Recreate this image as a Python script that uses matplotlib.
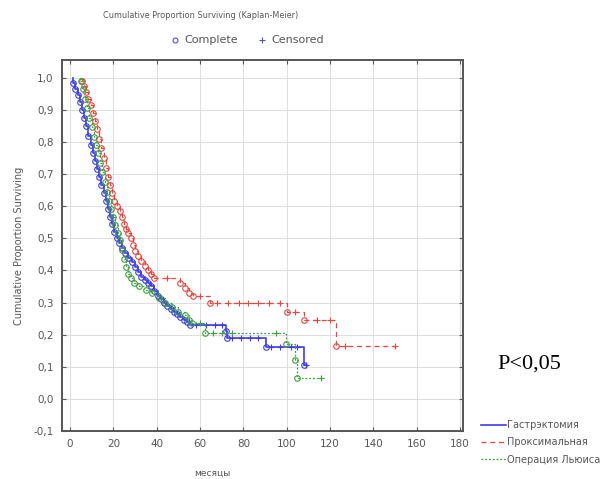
import matplotlib.pyplot as plt

# Gastrectomy (blue): event times and survival after each event
gast_t = [1.5, 2.5, 3.5, 4.5, 5.5, 6.5, 7.5, 8.5, 9.5, 10.5, 11.5, 12.5, 13.5, 14.5,
          15.5, 16.5, 17.5, 18.5, 19.5, 20.5, 21.5, 22.5, 24, 25.5, 27, 28.5, 30, 31.5,
          33, 34.5, 36, 37.5, 39, 40.5, 42, 43.5, 45, 46.5, 48, 49.5, 51, 52.5, 54, 55.5,
          72, 72.5, 90.5, 108]
gast_s = [0.985, 0.965, 0.945, 0.925, 0.90, 0.875, 0.85, 0.82, 0.79, 0.765, 0.74, 0.715,
          0.69, 0.665, 0.64, 0.615, 0.59, 0.565, 0.545, 0.52, 0.50, 0.485, 0.47, 0.455,
          0.44, 0.425, 0.41, 0.395, 0.38, 0.37, 0.36, 0.35, 0.335, 0.32, 0.31, 0.30, 0.29,
          0.28, 0.27, 0.265, 0.255, 0.245, 0.24, 0.23, 0.21, 0.19, 0.16, 0.105]
gast_cens_t = [58, 63, 67, 70, 75, 79, 83, 87, 93, 97, 102, 105, 109]
gast_cens_s = [0.23, 0.23, 0.23, 0.23, 0.19, 0.19, 0.19, 0.19, 0.16, 0.16, 0.16, 0.16, 0.105]

# Proximal resection (red)
prox_t = [5.5, 6.5, 7.5, 8.5, 9.5, 10.5, 11.5, 12.5, 13.5, 14.5, 15.5, 16.5, 17.5, 18.5,
          19.5, 20.5, 21.5, 23, 24, 25, 26, 27, 28, 29, 30, 31.5, 33, 34.5, 36, 37.5, 39,
          51, 53, 55, 57, 64.5, 100, 108, 123]
prox_s = [0.99, 0.975, 0.955, 0.935, 0.915, 0.89, 0.865, 0.84, 0.81, 0.78, 0.75, 0.72,
          0.69, 0.665, 0.64, 0.615, 0.60, 0.585, 0.565, 0.545, 0.53, 0.515, 0.50, 0.48,
          0.46, 0.445, 0.43, 0.415, 0.40, 0.39, 0.375, 0.36, 0.345, 0.33, 0.32, 0.30, 0.27,
          0.245, 0.165]
prox_cens_t = [45, 60, 68, 73, 78, 82, 87, 92, 97, 104, 114, 120, 127, 150]
prox_cens_s = [0.375, 0.32, 0.30, 0.30, 0.30, 0.30, 0.30, 0.30, 0.30, 0.27, 0.245, 0.245,
               0.165, 0.165]

# Lewis operation (green)
lewis_t = [5, 6, 7, 8, 9, 10, 11, 12, 13, 14, 15, 16, 17, 18, 19, 20, 21, 22, 23, 24, 25,
           26, 27, 28, 29.5, 32, 35, 38, 41, 44, 47, 50, 53, 55, 56.5, 62.5, 99.5, 104, 105]
lewis_s = [0.99, 0.965, 0.935, 0.905, 0.875, 0.845, 0.815, 0.79, 0.765, 0.735, 0.705,
           0.675, 0.645, 0.615, 0.59, 0.565, 0.54, 0.515, 0.495, 0.465, 0.435, 0.41, 0.39,
           0.375, 0.36, 0.35, 0.34, 0.33, 0.315, 0.30, 0.285, 0.27, 0.26, 0.245, 0.235,
           0.205, 0.17, 0.12, 0.065]
lewis_cens_t = [60, 66, 70, 75, 95, 116]
lewis_cens_s = [0.235, 0.205, 0.205, 0.205, 0.205, 0.065]

groups = [
    ("Гастрэктомия", gast_t, gast_s, gast_cens_t, gast_cens_s, "#3c3cec", "-", 1.5),
    ("Проксимальная", prox_t, prox_s, prox_cens_t, prox_cens_s, "#e8453f", (0, (4, 3)), 5.5),
    ("Операция Льюиса", lewis_t, lewis_s, lewis_cens_t, lewis_cens_s, "#3ca03c", (0, (1.5, 1.5)), 4.5),
]

fig = plt.figure(figsize=(6.04, 4.79), dpi=100)
ax = fig.add_axes([0.1026, 0.1002, 0.6640, 0.7745])

gray = "#555555"
for name, t, s, ct, cs, col, ls, t0 in groups:
    # step line from S=1 through every event out to the last observation
    last = max(t[-1], max(ct))
    xs = [t0] + list(t) + [last]
    ys = [1.0] + list(s) + [s[-1]]
    ax.step(xs, ys, where="post", color=col, lw=1.2 if ls == "-" else 0.9,
            linestyle=ls, label=name)
    ax.plot(t, s, "o", ms=4, mfc="none", mec=col, mew=0.8, ls="none")
    ax.plot(ct, cs, "+", ms=4, color=col, mew=0.8, ls="none")

ax.set_xlim(-3.7, 181.4)
ax.set_ylim(-0.1, 1.055)
ax.set_xticks(range(0, 181, 20))
yt = [-0.1 + 0.1 * i for i in range(12)]
ax.set_yticks(yt)
ax.set_yticklabels([("%.1f" % v).replace(".", ",").replace("-0,0", "0,0") for v in yt])
ax.grid(True, color="#dddddd", lw=0.7)
ax.set_axisbelow(True)
ax.tick_params(direction="in", length=3, color=gray, labelcolor=gray, labelsize=7.5,
               top=True, right=True, pad=6)
for sp in ax.spines.values():
    sp.set_color(gray)
    sp.set_linewidth(1.4)

fig.text(0.031, 0.487, "Cumulative Proportion Surviving", rotation=90,
         ha="center", va="center", fontsize=7, color=gray)
fig.text(0.351, 0.013, "месяцы", ha="center", va="center", fontsize=6.5, color=gray)
fig.text(0.332, 0.967, "Cumulative Proportion Surviving (Kaplan-Meier)", ha="center",
         va="center", fontsize=5.9, color=gray)

# Complete / Censored key
fig.lines.append(plt.Line2D([0.290], [0.917], marker="o", ms=3.5, mfc="none",
                            mec="#5050d0", mew=0.8, transform=fig.transFigure))
fig.text(0.305, 0.917, "Complete", ha="left", va="center", fontsize=8, color=gray)
fig.lines.append(plt.Line2D([0.433], [0.917], marker="+", ms=4, color="#5050d0",
                            mew=0.8, transform=fig.transFigure))
fig.text(0.449, 0.917, "Censored", ha="left", va="center", fontsize=8, color=gray)

fig.text(0.877, 0.240, "P<0,05", ha="center", va="center", fontsize=16,
         family="Liberation Serif", color="black")

leg = fig.legend(loc="lower left", bbox_to_anchor=(0.790, 0.022), frameon=False,
                 fontsize=7, handlelength=2.6, handletextpad=0.1, labelspacing=0.75,
                 borderaxespad=0)
for txt in leg.get_texts():
    txt.set_color(gray)

fig.savefig("out.png", dpi=100)
